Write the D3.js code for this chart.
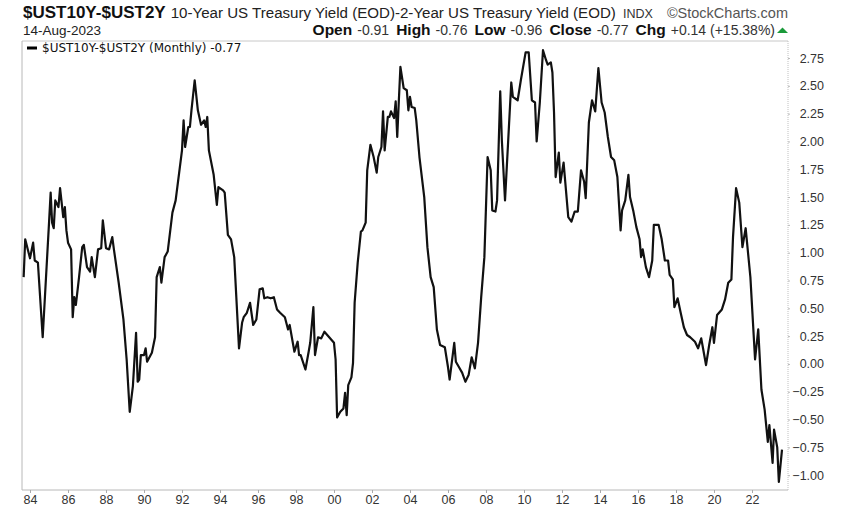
<!DOCTYPE html>
<html><head><meta charset="utf-8">
<script src="https://cdn.jsdelivr.net/npm/d3@7"></script>
<style>body{margin:0;background:#fff}svg{display:block}</style>
</head><body>
<svg id="c" width="848" height="513"></svg>
<script>
// ---- data (monthly 10Y-2Y spread) ----
const dates = ["1983-09","1983-10","1984-01","1984-03","1984-04","1984-06","1984-09","1985-01","1985-02","1985-03","1985-04","1985-05","1985-07","1985-08","1985-10","1985-11","1985-12","1986-01","1986-03","1986-04","1986-05","1986-06","1986-08","1986-10","1986-11","1987-01","1987-03","1987-04","1987-06","1987-08","1987-10","1987-11","1988-01","1988-03","1988-05","1988-06","1988-09","1988-12","1989-02","1989-04","1989-06","1989-08","1989-09","1989-10","1989-11","1990-01","1990-02","1990-03","1990-06","1990-08","1990-09","1990-11","1990-12","1991-02","1991-04","1991-07","1991-09","1992-01","1992-02","1992-03","1992-05","1992-06","1992-07","1992-09","1992-11","1993-01","1993-03","1993-04","1993-05","1993-06","1993-09","1993-11","1993-12","1994-03","1994-04","1994-06","1994-08","1994-10","1995-01","1995-03","1995-04","1995-06","1995-08","1995-10","1995-12","1996-02","1996-04","1996-05","1996-07","1996-09","1996-11","1997-01","1997-03","1997-06","1997-08","1997-09","1997-12","1998-02","1998-03","1998-04","1998-07","1998-09","1998-10","1998-12","1999-01","1999-03","1999-05","1999-07","1999-10","2000-01","2000-02","2000-03","2000-05","2000-07","2000-08","2000-09","2000-10","2000-12","2001-01","2001-02","2001-04","2001-06","2001-07","2001-09","2001-10","2001-12","2002-02","2002-04","2002-05","2002-07","2002-08","2002-09","2002-11","2002-12","2003-01","2003-03","2003-04","2003-05","2003-06","2003-07","2003-09","2003-11","2003-12","2004-01","2004-02","2004-04","2004-05","2004-07","2004-10","2004-12","2005-02","2005-04","2005-06","2005-08","2005-11","2006-01","2006-02","2006-05","2006-06","2006-08","2006-10","2006-12","2007-02","2007-04","2007-06","2007-08","2007-10","2007-12","2008-02","2008-04","2008-05","2008-07","2008-08","2008-10","2008-11","2009-01","2009-03","2009-05","2009-06","2009-09","2009-11","2010-02","2010-04","2010-06","2010-08","2010-09","2010-11","2011-01","2011-03","2011-04","2011-06","2011-07","2011-08","2011-09","2011-11","2011-12","2012-02","2012-05","2012-07","2012-09","2012-11","2013-01","2013-03","2013-04","2013-06","2013-08","2013-10","2013-12","2014-02","2014-04","2014-06","2014-08","2014-10","2014-12","2015-02","2015-03","2015-05","2015-07","2015-08","2015-10","2015-12","2016-02","2016-03","2016-04","2016-06","2016-08","2016-10","2016-11","2017-02","2017-04","2017-06","2017-08","2017-09","2017-11","2017-12","2018-02","2018-04","2018-06","2018-08","2018-10","2019-01","2019-03","2019-05","2019-06","2019-08","2019-10","2019-12","2020-01","2020-03","2020-06","2020-08","2020-10","2020-12","2021-01","2021-03","2021-05","2021-07","2021-09","2021-12","2022-03","2022-05","2022-07","2022-09","2022-11","2022-12","2023-02","2023-03","2023-05","2023-06","2023-08"];
const values = [0.78,1.12,0.95,1.09,0.93,0.91,0.24,1.27,1.54,1.27,1.22,1.47,1.41,1.58,1.32,1.41,1.20,1.09,1.03,0.42,0.60,0.53,0.78,1.05,1.07,0.87,0.83,0.96,0.78,1.03,1.04,1.29,1.04,1.03,1.14,1.03,0.73,0.40,0.04,-0.43,-0.20,0.28,-0.16,-0.14,0.08,0.08,0.14,0.02,0.10,0.24,0.78,0.87,0.73,0.96,1.01,1.36,1.47,1.92,2.19,1.95,2.13,2.13,2.28,2.55,2.28,2.15,2.19,2.13,2.22,1.92,1.70,1.43,1.59,1.56,1.54,1.16,1.12,0.96,0.14,0.37,0.42,0.46,0.55,0.35,0.40,0.67,0.68,0.59,0.60,0.59,0.60,0.49,0.46,0.42,0.31,0.35,0.11,0.20,0.08,0.08,-0.05,0.11,0.19,0.51,0.08,0.24,0.23,0.29,0.24,0.19,0.04,-0.48,-0.43,-0.40,-0.26,-0.46,-0.19,-0.12,0.01,0.55,0.91,1.19,1.20,1.27,1.74,1.97,1.86,1.72,1.86,1.95,2.27,1.92,2.22,2.22,2.27,2.21,2.36,2.04,2.37,2.67,2.48,2.46,2.28,2.40,2.31,2.30,2.19,1.86,1.50,1.05,0.78,0.69,0.31,0.17,0.15,-0.03,-0.14,0.19,0.02,-0.03,-0.08,-0.16,-0.10,0.06,-0.04,0.19,0.60,0.96,1.86,1.74,1.38,1.37,1.47,2.45,2.01,1.47,1.99,2.53,2.40,2.37,2.55,2.80,2.80,2.37,2.35,2.00,2.35,2.82,2.73,2.69,2.71,2.62,2.26,1.68,1.90,1.63,1.81,1.32,1.28,1.37,1.37,1.74,1.64,1.49,2.17,2.37,2.27,2.66,2.35,2.26,2.04,1.86,1.83,1.68,1.20,1.38,1.47,1.70,1.50,1.38,1.23,1.12,0.96,1.03,0.87,0.78,0.93,1.25,1.25,1.12,0.93,0.93,0.80,0.76,0.51,0.59,0.46,0.33,0.26,0.24,0.20,0.14,0.23,0.15,-0.01,0.17,0.33,0.19,0.44,0.49,0.58,0.73,0.76,1.14,1.58,1.45,1.05,1.22,0.78,0.04,0.31,-0.23,-0.41,-0.70,-0.55,-0.89,-0.59,-0.75,-1.06,-0.77];
const yTicks = [-1.00,-0.75,-0.50,-0.25,0.00,0.25,0.50,0.75,1.00,1.25,1.50,1.75,2.00,2.25,2.50,2.75];
const xTickYears = [1984,1986,1988,1990,1992,1994,1996,1998,2000,2002,2004,2006,2008,2010,2012,2014,2016,2018,2020,2022];
const titleSymbol = "$UST10Y-$UST2Y";
const titleName = "10-Year US Treasury Yield (EOD)-2-Year US Treasury Yield (EOD)";
const dateLabel = "14-Aug-2023";
const ohlc = [["Open","-0.91"],["High","-0.76"],["Low","-0.96"],["Close","-0.77"],["Chg","+0.14 (+15.38%)"]];
const legendLabel = "$UST10Y-$UST2Y (Monthly) -0.77";

const parse = d3.timeParse("%Y-%m");
const data = dates.map((d,i)=>({date:parse(d), value:values[i]}));

const svg = d3.select("#c");
const L=22, R=788, T=41, B=490;
const x = d3.scaleTime().domain([new Date(1984,0,1), new Date(2022,0,1)]).range([30,752]);
const y = d3.scaleLinear().domain([-1,2.75]).range([475.2,58]);

// frame
svg.append("line").attr("x1",L).attr("x2",R).attr("y1",T).attr("y2",T).attr("stroke","#c8c8c8");
svg.append("line").attr("x1",L).attr("x2",L).attr("y1",T).attr("y2",B).attr("stroke","#b8b8b8");
svg.append("line").attr("x1",L).attr("x2",R).attr("y1",B).attr("y2",B).attr("stroke","#b8b8b8");
svg.append("line").attr("x1",R).attr("x2",R).attr("y1",T).attr("y2",B).attr("stroke","#c0c0c0").attr("stroke-dasharray","1,1");

// x axis
const xa = svg.append("g").attr("transform",`translate(0,${B})`)
  .call(d3.axisBottom(x).tickValues(xTickYears.map(yr=>new Date(yr,0,1))).tickFormat(d3.timeFormat("%y")).tickSize(3).tickPadding(2));
xa.select(".domain").remove();
xa.selectAll("line").attr("stroke","#aaa");
xa.selectAll("text").attr("font-family","Liberation Sans, Arial, sans-serif").attr("font-size","12.5px").attr("fill","#333");

// y axis (right)
const ya = svg.append("g").attr("transform",`translate(${R},0)`)
  .call(d3.axisRight(y).tickValues(yTicks).tickFormat(d3.format(".2f")).tickSize(2).tickPadding(0));
ya.select(".domain").remove();
ya.selectAll("line").attr("stroke","#bbb");
ya.selectAll("text").attr("text-anchor","end").attr("x",36).attr("font-family","Liberation Sans, Arial, sans-serif").attr("font-size","12.5px").attr("fill","#333");

// line
svg.append("path").datum(data)
  .attr("d", d3.line().x(d=>x(d.date)).y(d=>y(d.value)))
  .attr("fill","none").attr("stroke","#111").attr("stroke-width",2.2).attr("stroke-linejoin","round");

// header
const hf = "Liberation Sans, Arial, sans-serif";
const h1 = svg.append("text").attr("x",23).attr("y",17.5).attr("font-family",hf).attr("fill","#111");
h1.append("tspan").attr("font-weight","bold").attr("font-size","17px").text(titleSymbol);
h1.append("tspan").attr("dx",5).attr("font-size","15.1px").attr("fill","#222").text(titleName);
svg.append("text").attr("x",623).attr("y",17.5).attr("font-family",hf).attr("font-size","12.5px").attr("fill","#333").text("INDX");
svg.append("text").attr("x",788).attr("y",17.5).attr("text-anchor","end").attr("font-family",hf).attr("font-size","14.5px").attr("fill","#555").text("©StockCharts.com");

svg.append("text").attr("x",23).attr("y",34.5).attr("font-family",hf).attr("font-size","13.5px").attr("fill","#222").text(dateLabel);
const h2 = svg.append("text").attr("x",775).attr("y",35).attr("text-anchor","end").attr("font-family",hf).attr("fill","#111");
ohlc.forEach((p,i)=>{
  h2.append("tspan").attr("dx", i===0?0:7).attr("font-weight","bold").attr("font-size","15.5px").text(p[0]);
  h2.append("tspan").attr("dx",5).attr("font-size","14px").attr("fill","#333").text(p[1]);
});
svg.append("path").attr("d","M777,33 L788,33 L782.5,27.5 Z").attr("fill","#1a9a3a");

// legend
svg.append("line").attr("x1",27).attr("x2",37).attr("y1",48).attr("y2",48).attr("stroke","#000").attr("stroke-width",3);
svg.append("text").attr("x",42).attr("y",52).attr("font-family","DejaVu Sans, Verdana, sans-serif").attr("font-size","12px").attr("fill","#111").text(legendLabel);
</script>
</body></html>
